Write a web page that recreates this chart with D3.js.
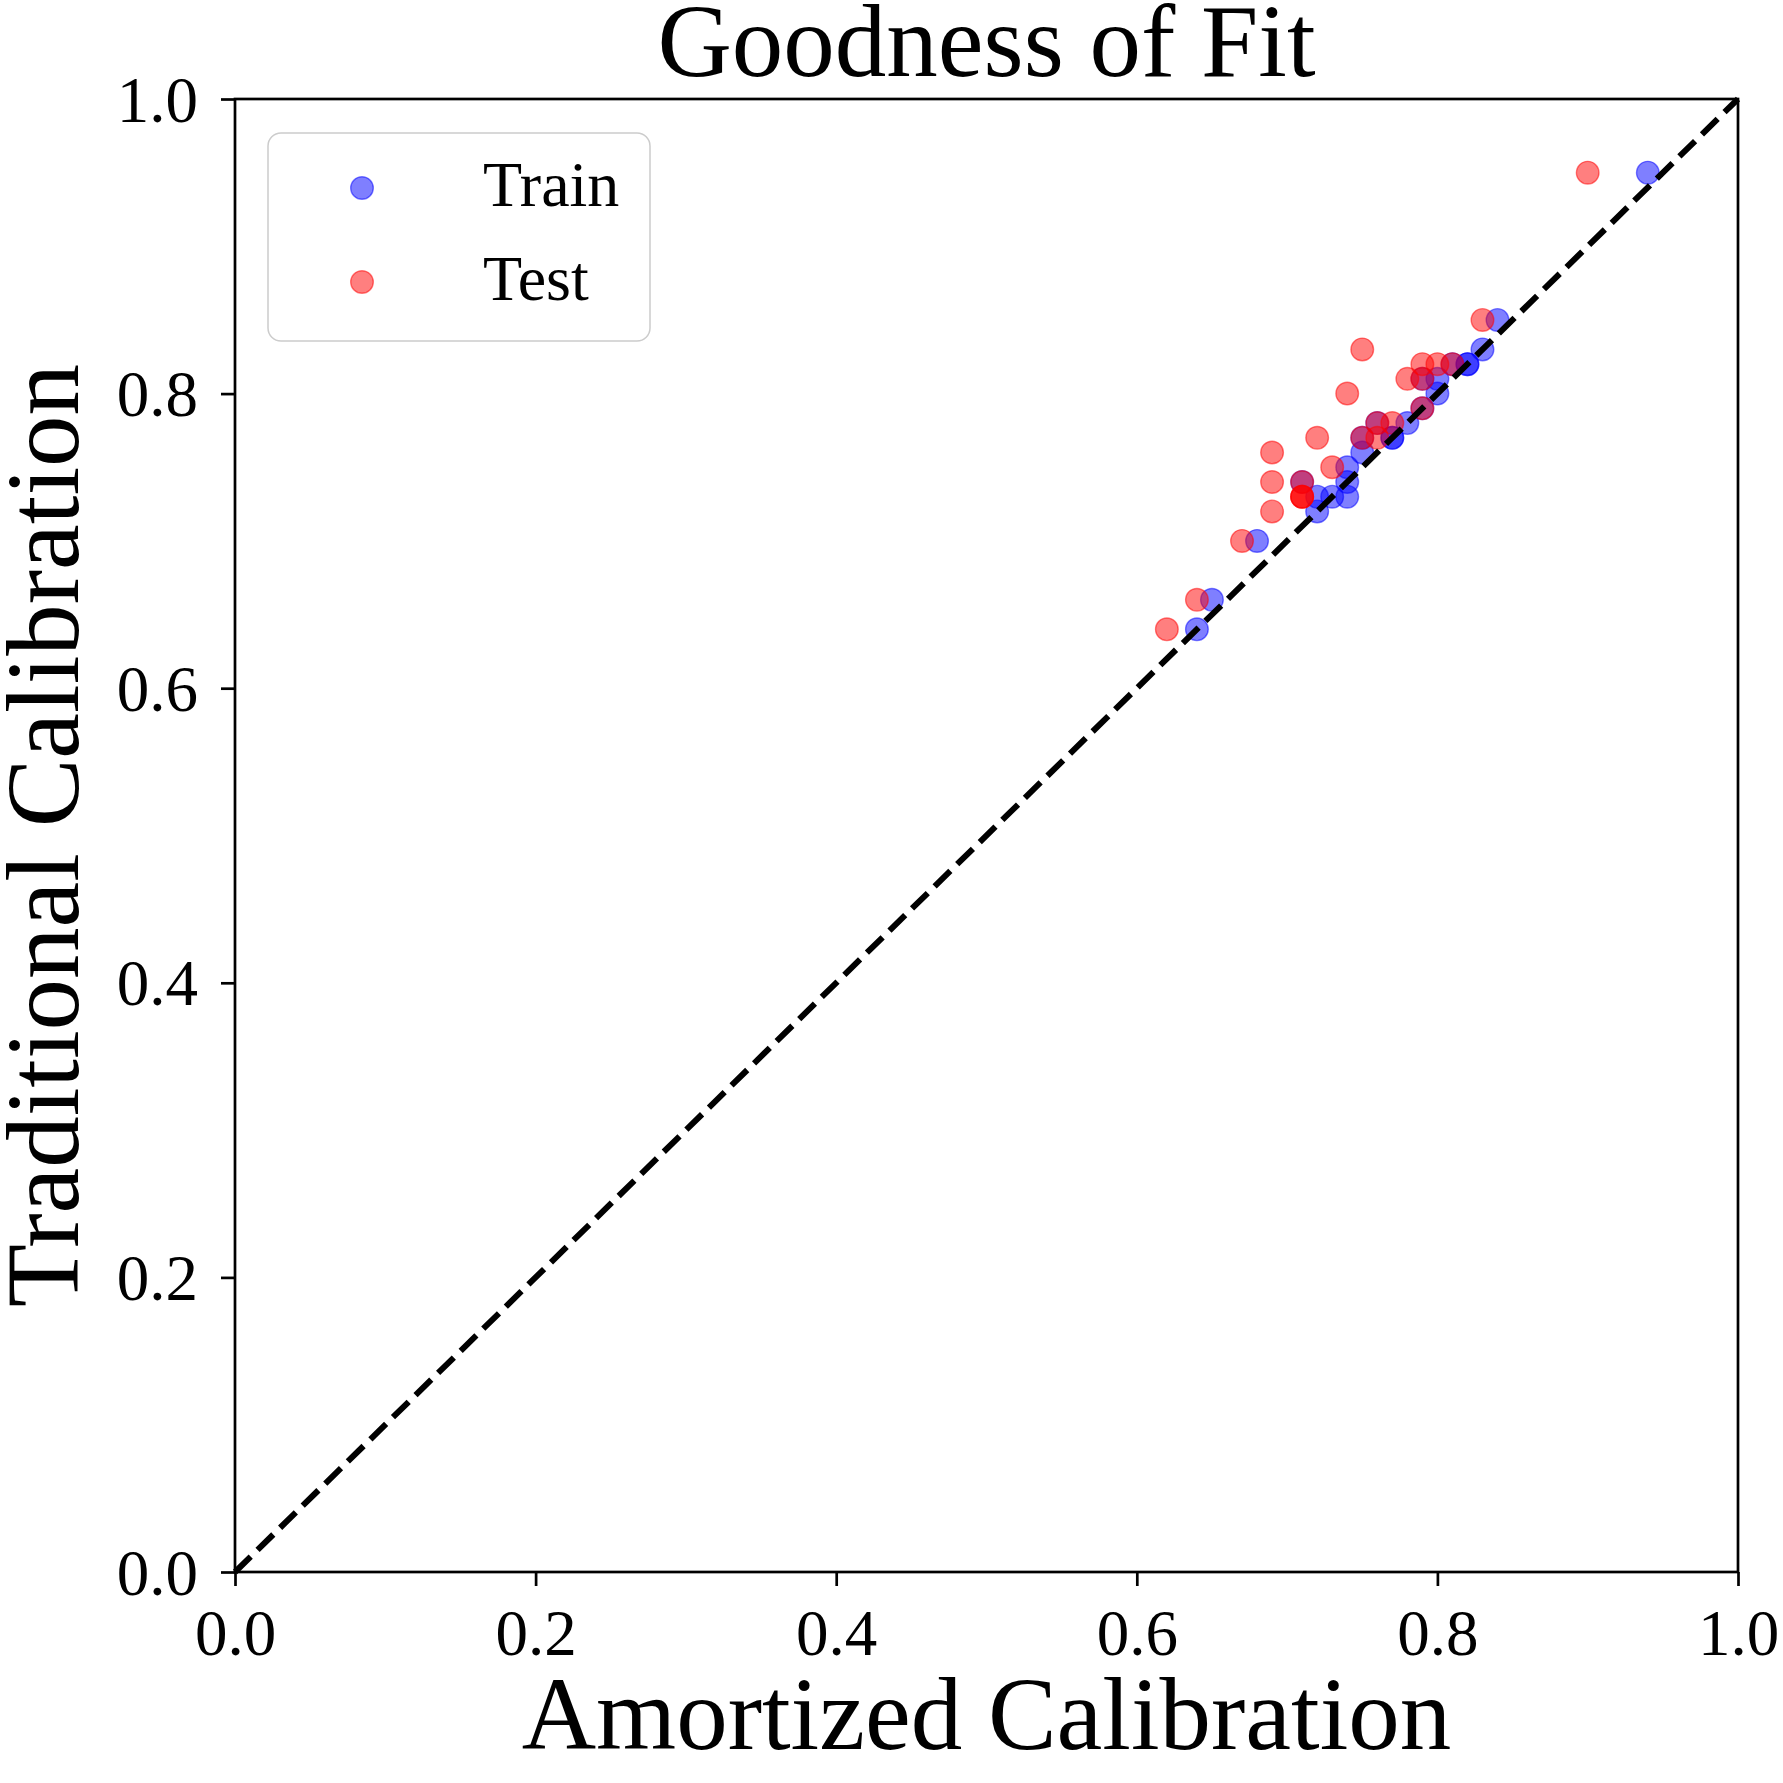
<!DOCTYPE html>
<html>
<head>
<meta charset="utf-8">
<script src="https://cdn.jsdelivr.net/npm/d3@7"></script>
<style>
  html, body { margin: 0; padding: 0; background: #fff; }
  svg { display: block; }
  text { font-family: "Liberation Serif", "DejaVu Serif", serif; fill: #000; }
</style>
</head>
<body>
<svg id="chart" width="1783" height="1783"></svg>
<script>
// ---- data ----
const trainX = [0.94, 0.84, 0.83, 0.82, 0.82, 0.81, 0.80, 0.80, 0.79, 0.79, 0.78, 0.77, 0.77, 0.76, 0.75, 0.75, 0.74, 0.74, 0.74, 0.73, 0.72, 0.72, 0.71, 0.68, 0.65, 0.64];
const trainY = [0.95, 0.85, 0.83, 0.82, 0.82, 0.82, 0.81, 0.80, 0.81, 0.79, 0.78, 0.77, 0.77, 0.78, 0.77, 0.76, 0.75, 0.74, 0.73, 0.73, 0.73, 0.72, 0.74, 0.70, 0.66, 0.64];
const testX = [0.90, 0.83, 0.75, 0.79, 0.80, 0.81, 0.78, 0.79, 0.74, 0.79, 0.77, 0.76, 0.76, 0.75, 0.72, 0.69, 0.73, 0.69, 0.71, 0.71, 0.71, 0.71, 0.69, 0.67, 0.64, 0.62];
const testY = [0.95, 0.85, 0.83, 0.82, 0.82, 0.82, 0.81, 0.81, 0.80, 0.79, 0.78, 0.78, 0.77, 0.77, 0.77, 0.76, 0.75, 0.74, 0.74, 0.73, 0.73, 0.73, 0.72, 0.70, 0.66, 0.64];
const tickValues = [0.0, 0.2, 0.4, 0.6, 0.8, 1.0];
const seriesNames = ["Train", "Test"];
const seriesColors = ["#0000ff", "#ff0000"];
const titleText = "Goodness of Fit";
const xLabelText = "Amortized Calibration";
const yLabelText = "Traditional Calibration";

// ---- layout ----
const L = 235, R = 1738, T = 99, B = 1572;
const svg = d3.select("#chart");
const x = d3.scaleLinear().domain([0, 1]).range([L, R]);
const y = d3.scaleLinear().domain([0, 1]).range([B, T]);

const series = [
  { name: seriesNames[0], color: seriesColors[0], pts: trainX.map((v, i) => [v, trainY[i]]) },
  { name: seriesNames[1], color: seriesColors[1], pts: testX.map((v, i) => [v, testY[i]]) }
];

const rad = 11.3;
series.forEach(s => {
  svg.append("g").selectAll("circle").data(s.pts).join("circle")
    .attr("cx", d => x(d[0]))
    .attr("cy", d => y(d[1]))
    .attr("r", rad)
    .attr("fill", s.color).attr("fill-opacity", 0.5)
    .attr("stroke", s.color).attr("stroke-opacity", 0.5).attr("stroke-width", 1.4);
});

// diagonal dashed line
svg.append("line")
  .attr("x1", x(0)).attr("y1", y(0)).attr("x2", x(1)).attr("y2", y(1))
  .attr("stroke", "#000").attr("stroke-width", 6)
  .attr("stroke-dasharray", "22,9.6");

// axes
const xAxis = d3.axisBottom(x).tickValues(tickValues).tickFormat(d3.format(".1f"))
  .tickSizeOuter(0).tickSizeInner(14).tickPadding(12);
const yAxis = d3.axisLeft(y).tickValues(tickValues).tickFormat(d3.format(".1f"))
  .tickSizeOuter(0).tickSizeInner(14).tickPadding(23);

const gx = svg.append("g").attr("transform", `translate(0,${B})`).call(xAxis);
const gy = svg.append("g").attr("transform", `translate(${L},0)`).call(yAxis);
[gx, gy].forEach(g => {
  g.select(".domain").remove();
  g.selectAll(".tick line").attr("stroke", "#000").attr("stroke-width", 2.7);
  g.selectAll(".tick text").attr("font-family", "Liberation Serif, serif").attr("font-size", 65).attr("fill", "#000");
});
gx.selectAll(".tick text").attr("dy", null).attr("y", 0).attr("transform", "translate(0,83)");
gy.selectAll(".tick text").attr("dy", "0.34em");

// spines
svg.append("rect").attr("x", L).attr("y", T).attr("width", R - L).attr("height", B - T)
  .attr("fill", "none").attr("stroke", "#000").attr("stroke-width", 2.7);

// legend
const lg = svg.append("g");
lg.append("rect").attr("x", 268).attr("y", 133).attr("width", 382).attr("height", 208)
  .attr("rx", 13).attr("ry", 13)
  .attr("fill", "#fff").attr("fill-opacity", 0.8)
  .attr("stroke", "#cccccc").attr("stroke-width", 1.5);
series.forEach((s, i) => {
  const cy = 188 + i * 94;
  lg.append("circle").attr("cx", 362).attr("cy", cy).attr("r", rad)
    .attr("fill", s.color).attr("fill-opacity", 0.5)
    .attr("stroke", s.color).attr("stroke-opacity", 0.5).attr("stroke-width", 1.4);
  lg.append("text").attr("x", 483).attr("y", cy + 18).attr("font-size", 64).text(s.name);
});

// title and labels
svg.append("text").attr("x", (L + R) / 2).attr("y", 76).attr("text-anchor", "middle")
  .attr("font-size", 103).text(titleText);
svg.append("text").attr("x", (L + R) / 2).attr("y", 1749).attr("text-anchor", "middle")
  .attr("font-size", 103).text(xLabelText);
svg.append("text").attr("transform", `translate(78,${(T + B) / 2}) rotate(-90)`)
  .attr("text-anchor", "middle").attr("font-size", 103).text(yLabelText);
</script>
</body>
</html>
